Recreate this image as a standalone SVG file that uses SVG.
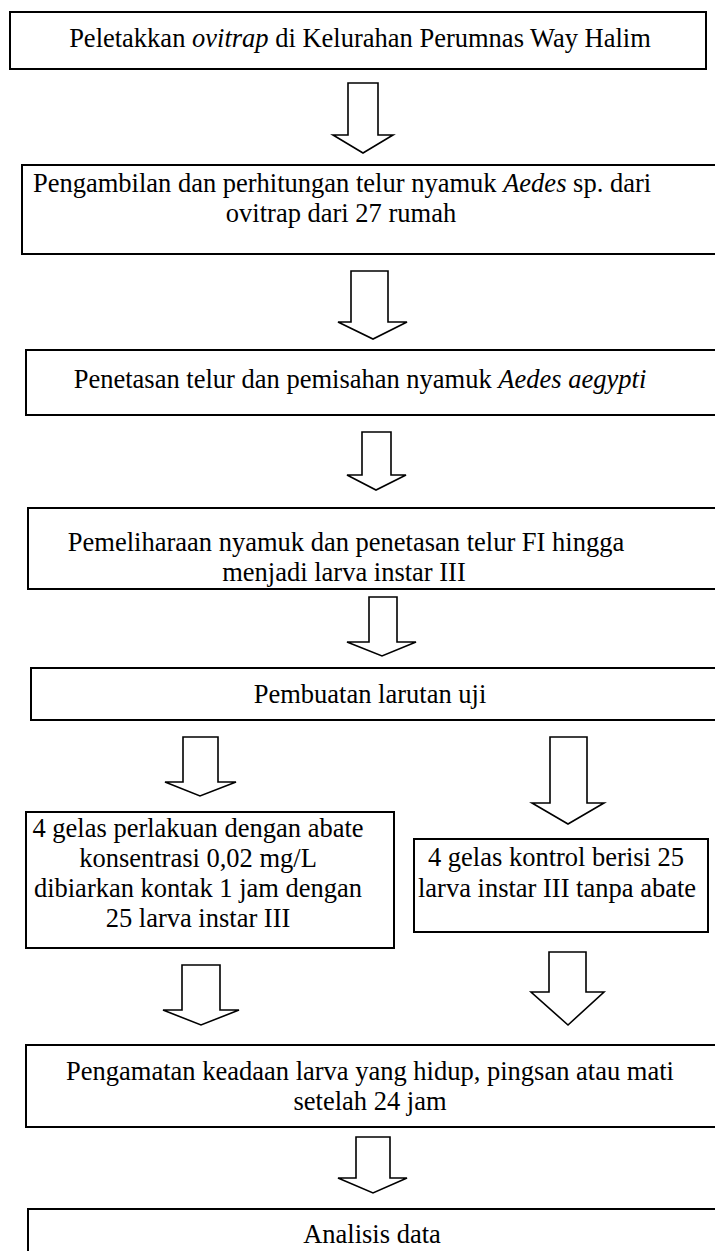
<svg xmlns="http://www.w3.org/2000/svg" width="715" height="1251" viewBox="0 0 715 1251">
<style>
.box{fill:#fff;stroke:#000;stroke-width:2}
.arr{fill:#fff;stroke:#000;stroke-width:1.6;stroke-linejoin:miter}
text{font-family:"Liberation Serif","Times New Roman",serif;font-size:26.5px;fill:#000;text-anchor:middle}
.i{font-style:italic}
</style>
<rect width="715" height="1251" fill="#fff"/>
<g id="connectors">
<polygon class="arr" points="348,83 378,83 378,135 393,135 363,153 333,135 348,135"/>
<polygon class="arr" points="351,271 388,271 388,322 407,322 373,339 338,322 351,322"/>
<polygon class="arr" points="362,432 391,432 391,475 406,475 376,490 347,475 362,475"/>
<polygon class="arr" points="369,597 397,597 397,642 416,642 382,656 347,642 369,642"/>
<polygon class="arr" points="183,737 218,737 218,782 236,782 200,796 165,782 183,782"/>
<polygon class="arr" points="550,737 587,737 587,803 604,803 568,824 532,803 550,803"/>
<polygon class="arr" points="182,965 220,965 220,1010 239,1010 201,1025 163,1010 182,1010"/>
<polygon class="arr" points="549,952 586,952 586,992 604,992 568,1025 531,992 549,992"/>
<polygon class="arr" points="356,1137 390,1137 390,1178 407,1178 373,1193 338,1178 356,1178"/>
</g>
<g id="n1"><rect class="box" x="10" y="12" width="696" height="57"/>
<text x="360" y="47">Peletakkan <tspan class="i">ovitrap</tspan> di Kelurahan Perumnas Way Halim</text></g>
<g id="n2"><rect class="box" x="22" y="165" width="700" height="89"/>
<text x="342" y="192">Pengambilan dan perhitungan telur nyamuk <tspan class="i">Aedes</tspan> sp. dari</text>
<text x="341" y="222">ovitrap dari 27 rumah</text></g>
<g id="n3"><rect class="box" x="26" y="350" width="700" height="65"/>
<text x="360" y="388">Penetasan telur dan pemisahan nyamuk <tspan class="i">Aedes aegypti</tspan></text></g>
<g id="n4"><rect class="box" x="28" y="508" width="700" height="81"/>
<text x="346" y="551">Pemeliharaan nyamuk dan penetasan telur FI hingga</text>
<text x="344" y="581">menjadi larva instar III</text></g>
<g id="n5"><rect class="box" x="31" y="668" width="700" height="52"/>
<text x="370" y="703">Pembuatan larutan uji</text></g>
<g id="n6"><rect class="box" x="26" y="812" width="368" height="136"/>
<text x="198" y="837">4 gelas perlakuan dengan abate</text>
<text x="198" y="867">konsentrasi 0,02 mg/L</text>
<text x="198" y="897">dibiarkan kontak 1 jam dengan</text>
<text x="198" y="927">25 larva instar III</text></g>
<g id="n7"><rect class="box" x="414" y="839" width="294" height="93"/>
<text x="556" y="866">4 gelas kontrol berisi 25</text>
<text x="557" y="897">larva instar III tanpa abate</text></g>
<g id="n8"><rect class="box" x="26" y="1045" width="700" height="82"/>
<text x="370" y="1080">Pengamatan keadaan larva yang hidup, pingsan atau mati</text>
<text x="370" y="1110">setelah 24 jam</text></g>
<g id="n9"><rect class="box" x="28" y="1209" width="700" height="60"/>
<text x="372" y="1243">Analisis data</text></g>
</svg>
